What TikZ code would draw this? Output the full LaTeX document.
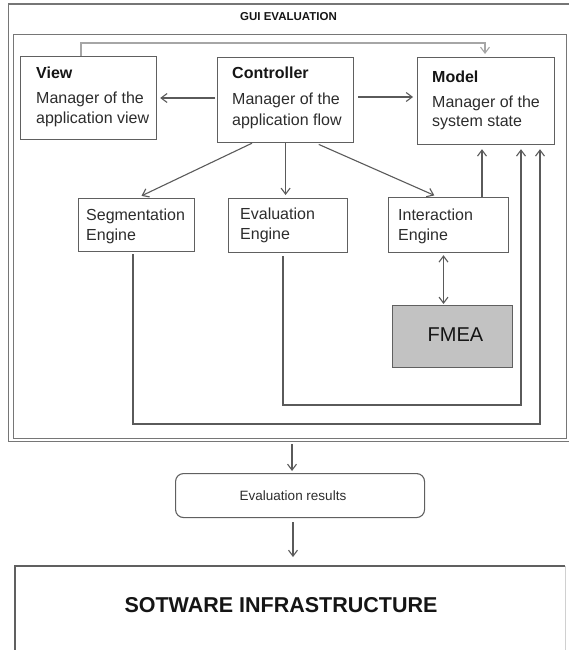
\documentclass[tikz,border=0pt]{standalone}
\usepackage{fontspec}
\setmainfont{Liberation Sans}
\usetikzlibrary{arrows.meta}

\definecolor{frameline}{HTML}{767676}
\definecolor{boxline}{HTML}{606060}
\definecolor{wire}{HTML}{5A5A5A}
\definecolor{lightwire}{HTML}{A6A6A6}
\definecolor{faintline}{HTML}{D0D0D0}
\definecolor{ink}{HTML}{2C2C2C}
\definecolor{darkink}{HTML}{151515}
\definecolor{fmeafill}{HTML}{C2C2C2}

\tikzset{
  frame/.style={draw=frameline, line width=1.2pt, rectangle, inner sep=0pt, anchor=north west},
  box/.style={draw=boxline, line width=1.2pt, rectangle, inner sep=0pt, anchor=north west},
  headtext/.style={anchor=base west, inner sep=0pt, text=darkink, font=\fontsize{16}{20}\selectfont\bfseries},
  bodytext/.style={anchor=base west, inner sep=0pt, text=ink, font=\fontsize{16}{20}\selectfont},
  barb/.tip={Straight Barb[length=6pt,width=9pt]},
  link/.style={draw=wire, line width=1.1pt, -barb},
  graylink/.style={draw=lightwire, line width=1.1pt, -barb},
}

\begin{document}
\begin{tikzpicture}[x=1pt,y=-1pt]
\useasboundingbox (0,0) rectangle (569,650);

% GUI frame: double border
\node[frame, minimum width=561pt, minimum height=437.5pt] (outer) at (8,3.5) {};
\node[frame, minimum width=553pt, minimum height=403.5pt] (inner) at (13,34) {};
\node[anchor=base, inner sep=0pt, text=darkink, font=\fontsize{11.5}{14}\selectfont\bfseries] (guititle) at (288.5,20.7) {GUI EVALUATION};

% MVC boxes
\node[box, minimum width=136pt, minimum height=83pt] (view) at (20,56) {};
\node[headtext] (viewhead) at (36,79) {View};
\node[bodytext] (viewl1) at (36,104) {Manager of the};
\node[bodytext] (viewl2) at (36,124) {application view};

\node[box, minimum width=136pt, minimum height=85pt] (ctrl) at (217,57) {};
\node[headtext] (ctrlhead) at (232,79) {Controller};
\node[bodytext] (ctrll1) at (232,105) {Manager of the};
\node[bodytext] (ctrll2) at (232,125) {application flow};

\node[box, minimum width=137pt, minimum height=87pt] (model) at (417,57) {};
\node[headtext] (modelhead) at (432,83) {Model};
\node[bodytext] (modell1) at (432,107) {Manager of the};
\node[bodytext] (modell2) at (432,127) {system state};

% Engines
\node[box, minimum width=116pt, minimum height=53pt] (seg) at (78,198) {};
\node[bodytext] (segl1) at (86,220) {Segmentation};
\node[bodytext] (segl2) at (86,240) {Engine};

\node[box, minimum width=119pt, minimum height=54pt] (eval) at (228,198) {};
\node[bodytext] (evall1) at (240,219) {Evaluation};
\node[bodytext] (evall2) at (240,239) {Engine};

\node[box, minimum width=120pt, minimum height=55pt] (inter) at (388,197) {};
\node[bodytext] (interl1) at (398,220) {Interaction};
\node[bodytext] (interl2) at (398,240) {Engine};

% FMEA
\node[box, fill=fmeafill, minimum width=120pt, minimum height=62pt] (fmea) at (392,305) {};
\node[anchor=base, inner sep=0pt, text=darkink, font=\fontsize{20}{24}\selectfont] (fmeatext) at (455.5,341.5) {FMEA};

% Results and infrastructure
\node[draw=boxline, line width=1.1pt, rounded corners=8pt, rectangle, inner sep=0pt, anchor=north west,
      minimum width=249pt, minimum height=44pt] (results) at (175,473) {};
\node[anchor=base, inner sep=0pt, text=ink, font=\fontsize{13.5}{16}\selectfont] (resultstext) at (293,500.5) {Evaluation results};

\node[rectangle, inner sep=0pt, anchor=north west, minimum width=550pt, minimum height=100pt] (sw) at (15,566) {};
\draw[boxline, line width=1.2pt] (sw.south west) -- (sw.north west) -- (sw.north east);
\draw[faintline, line width=0.8pt] (sw.north east) -- (sw.south east);
\node[anchor=base, inner sep=0pt, text=darkink, font=\fontsize{21.5}{26}\selectfont\bfseries] (swtext) at (281,612) {SOTWARE INFRASTRUCTURE};

% Bend points of the return lines
\coordinate (viewup) at (81,43);
\coordinate (modelin) at (485,43);
\coordinate (evaldown) at (283,405);
\coordinate (evalright) at (521,405);
\coordinate (segdown) at (133,424);
\coordinate (segright) at (540,424);

% View -> Model (light line over the top)
\draw[graylink, shorten >=3pt] (view.north -| viewup) -- (viewup) -- (modelin) -- (model.north -| modelin);

% Controller links
\draw[link, shorten <=2pt, shorten >=3pt] (ctrl.west |- 0,98) -- (view.east |- 0,98);
\draw[link, shorten <=4pt, shorten >=4pt] (ctrl.east |- 0,97) -- (model.west |- 0,97);
\draw[link, shorten >=5pt] (ctrl.south -| 252,0) -- (seg.north -| 137,0);
\draw[link, shorten >=3pt] (ctrl.south) -- (eval.north -| ctrl.south);
\draw[link, shorten <=3pt, shorten >=4pt] (ctrl.south -| 316,0) -- (inter.north -| 438,0);

% Engines to Model
\draw[link, shorten >=4pt] (inter.north -| 482,0) -- (model.south -| 482,0);
\draw[link, shorten <=3pt, shorten >=4pt] (eval.south -| evaldown) -- (evaldown) -- (evalright) -- (model.south -| evalright);
\draw[link, shorten <=2pt, shorten >=4pt] (seg.south -| segdown) -- (segdown) -- (segright) -- (model.south -| segright);

% Interaction <-> FMEA
\draw[link, barb-barb, shorten <=2pt, shorten >=1pt]
  (inter.south -| 443.5,0) -- (fmea.north -| 443.5,0);

% Output chain
\draw[link, shorten <=2pt, shorten >=2pt] (outer.south -| 292,0) -- (results.north -| 292,0);
\draw[link, shorten <=4pt, shorten >=9pt] (results.south -| 293,0) -- (sw.north -| 293,0);
\end{tikzpicture}
\end{document}
